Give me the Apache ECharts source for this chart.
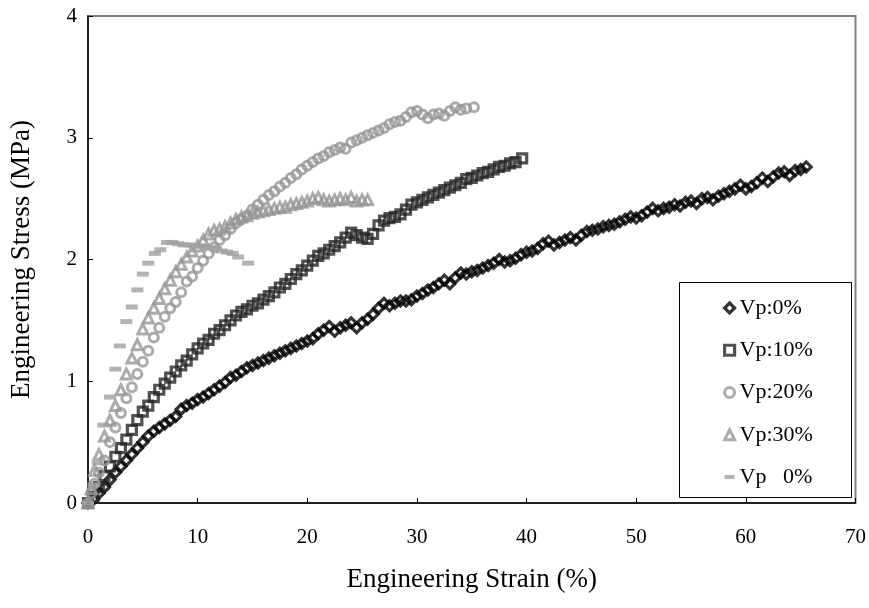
<!DOCTYPE html>
<html>
<head>
<meta charset="utf-8">
<script src="https://cdn.jsdelivr.net/npm/echarts@6/dist/echarts.min.js"></script>
<style>
html,body{margin:0;padding:0;background:#fff;}
#chart{width:869px;height:608px;}
</style>
</head>
<body>
<div id="chart"></div>
<script>
// Tick labels / axis ranges
const xTicks = [0, 10, 20, 30, 40, 50, 60, 70];
const yTicks = [0, 1, 2, 3, 4];
const seriesNames = ['Vp:0%', 'Vp:10%', 'Vp:20%', 'Vp:30%', 'Vp   0%'];

// Vp:0% (strain %, stress MPa)
const vp0 = [
[0,0],[0.5,0.03],[1.0,0.08],[1.5,0.13],[2.0,0.19],[2.5,0.25],[3.0,0.30],[3.5,0.35],[4.0,0.40],[4.5,0.45],
[5.0,0.50],[5.5,0.55],[6.0,0.59],[6.5,0.62],[7.0,0.65],[7.5,0.68],[8.0,0.71],[8.5,0.77],[9.0,0.80],[9.5,0.82],
[10.0,0.85],[10.5,0.87],[11.0,0.90],[11.5,0.93],[12.0,0.96],[12.5,0.99],[13.0,1.03],[13.5,1.05],[14.0,1.08],[14.5,1.11],
[15.0,1.13],[15.5,1.15],[16.0,1.17],[16.5,1.19],[17.0,1.21],[17.5,1.23],[18.0,1.25],[18.5,1.27],[19.0,1.29],[19.5,1.31],
[20.0,1.33],[20.5,1.35],[21.0,1.39],[21.5,1.42],[22.0,1.45],[22.5,1.41],[23.0,1.44],[23.5,1.46],[24.0,1.48],[24.5,1.44],
[25.0,1.48],[25.5,1.51],[26.0,1.55],[26.5,1.60],[27.0,1.64],[27.5,1.62],[28.0,1.64],[28.5,1.66],[29.0,1.66],[29.5,1.67],
[30.0,1.70],[30.5,1.72],[31.0,1.75],[31.5,1.77],[32.0,1.80],[32.5,1.83],[33.0,1.80],[33.5,1.85],[34.0,1.89],[34.5,1.88],
[35.0,1.90],[35.5,1.91],[36.0,1.93],[36.5,1.95],[37.0,1.97],[37.5,2.00],[38.0,1.98],[38.5,1.99],[39.0,2.01],[39.5,2.04],
[40.0,2.06],[40.5,2.07],[41.0,2.09],[41.5,2.13],[42.0,2.15],[42.5,2.12],[43.0,2.14],[43.5,2.16],[44.0,2.18],[44.5,2.16],
[45.0,2.20],[45.5,2.23],[46.0,2.24],[46.5,2.25],[47.0,2.27],[47.5,2.28],[48.0,2.29],[48.5,2.31],[49.0,2.33],[49.5,2.35],
[50.0,2.34],[50.5,2.36],[51.0,2.39],[51.5,2.42],[52.0,2.40],[52.5,2.42],[53.0,2.43],[53.5,2.45],[54.0,2.44],[54.5,2.47],
[55.0,2.48],[55.5,2.46],[56.0,2.50],[56.5,2.51],[57.0,2.49],[57.5,2.52],[58.0,2.54],[58.5,2.56],[59.0,2.58],[59.5,2.61],
[60.0,2.58],[60.5,2.60],[61.0,2.63],[61.5,2.67],[62.0,2.64],[62.5,2.68],[63.0,2.71],[63.5,2.72],[64.0,2.69],[64.5,2.73],
[65.0,2.74],[65.5,2.76]
];

// Vp:10%
const vp10 = [
[0,0],[0.5,0.05],[1.0,0.13],[1.5,0.22],[2.0,0.30],[2.5,0.38],[3.0,0.45],[3.5,0.52],[4.0,0.60],[4.5,0.68],
[5.0,0.75],[5.5,0.80],[6.0,0.87],[6.5,0.93],[7.0,0.98],[7.5,1.03],[8.0,1.08],[8.5,1.13],[9.0,1.17],[9.5,1.22],
[10.0,1.27],[10.5,1.31],[11.0,1.34],[11.5,1.39],[12.0,1.42],[12.5,1.46],[13.0,1.50],[13.5,1.54],[14.0,1.57],[14.5,1.59],
[15.0,1.62],[15.5,1.64],[16.0,1.67],[16.5,1.70],[17.0,1.73],[17.5,1.77],[18.0,1.80],[18.5,1.84],[19.0,1.88],[19.5,1.91],
[20.0,1.95],[20.5,1.99],[21.0,2.03],[21.5,2.05],[22.0,2.08],[22.5,2.11],[23.0,2.14],[23.5,2.18],[24.0,2.22],[24.5,2.20],
[25.0,2.18],[25.5,2.17],[26.0,2.21],[26.5,2.28],[27.0,2.32],[27.5,2.34],[28.0,2.35],[28.5,2.37],[29.0,2.41],[29.5,2.45],
[30.0,2.47],[30.5,2.49],[31.0,2.51],[31.5,2.53],[32.0,2.55],[32.5,2.57],[33.0,2.59],[33.5,2.61],[34.0,2.63],[34.5,2.66],
[35.0,2.67],[35.5,2.69],[36.0,2.71],[36.5,2.72],[37.0,2.74],[37.5,2.76],[38.0,2.77],[38.5,2.79],[39.0,2.80],[39.6,2.83]
];

// Vp:20%
const vp20 = [
[0,0],[0.3,0.08],[0.6,0.16],[1.0,0.25],[1.5,0.35],[2.0,0.50],[2.5,0.62],[3.0,0.74],[3.5,0.86],[4.0,0.95],
[4.5,1.06],[5.0,1.16],[5.5,1.25],[6.0,1.36],[6.5,1.44],[7.0,1.53],[7.5,1.60],[8.0,1.65],[8.5,1.73],[9.0,1.82],
[9.5,1.86],[10.0,1.93],[10.5,1.99],[11.0,2.05],[11.5,2.10],[12.0,2.16],[12.5,2.20],[13.0,2.25],[13.5,2.30],[14.0,2.33],
[14.5,2.36],[15.0,2.41],[15.5,2.45],[16.0,2.49],[16.5,2.53],[17.0,2.56],[17.5,2.60],[18.0,2.63],[18.5,2.67],[19.0,2.70],
[19.5,2.74],[20.0,2.77],[20.5,2.80],[21.0,2.83],[21.5,2.85],[22.0,2.88],[22.5,2.90],[23.0,2.92],[23.5,2.91],[24.0,2.96],
[24.5,2.98],[25.0,3.00],[25.5,3.02],[26.0,3.04],[26.5,3.06],[27.0,3.08],[27.5,3.11],[28.0,3.13],[28.5,3.14],[29.0,3.17],
[29.5,3.21],[30.0,3.22],[30.5,3.19],[31.0,3.16],[31.5,3.19],[32.0,3.20],[32.5,3.18],[33.0,3.22],[33.5,3.25],[34.0,3.23],
[34.5,3.24],[35.2,3.25]
];

// Vp:30%
const vp30 = [
[0,0],[0.3,0.12],[0.6,0.27],[1.0,0.40],[1.5,0.55],[2.0,0.68],[2.5,0.80],[3.0,0.93],[3.5,1.06],[4.0,1.19],
[4.5,1.30],[5.0,1.43],[5.5,1.52],[6.0,1.60],[6.5,1.68],[7.0,1.76],[7.5,1.83],[8.0,1.90],[8.5,1.96],[9.0,2.02],
[9.5,2.07],[10.0,2.11],[10.5,2.16],[11.0,2.21],[11.5,2.24],[12.0,2.25],[12.5,2.27],[13.0,2.30],[13.5,2.33],[14.0,2.35],
[14.5,2.36],[15.0,2.38],[15.5,2.39],[16.0,2.40],[16.5,2.41],[17.0,2.42],[17.5,2.43],[18.0,2.43],[18.5,2.45],[19.0,2.46],
[19.5,2.47],[20.0,2.48],[20.5,2.50],[21.0,2.51],[21.5,2.49],[22.0,2.48],[22.5,2.49],[23.0,2.50],[23.5,2.49],[24.0,2.51],
[24.5,2.48],[25.0,2.49],[25.5,2.49]
];

// Vp 40% (label reads "Vp   0%")
const vp40 = [
[0,0],[0.5,0.15],[0.9,0.33],[1.4,0.64],[2.0,0.87],[2.5,1.10],[2.9,1.29],[3.5,1.49],[4.0,1.61],[4.5,1.75],
[5.0,1.88],[5.5,1.97],[6.1,2.05],[6.6,2.08],[7.2,2.14],[7.7,2.14],[8.2,2.13],[8.7,2.12],[9.2,2.12],[9.7,2.11],
[10.2,2.11],[10.7,2.10],[11.2,2.10],[11.7,2.09],[12.2,2.07],[12.7,2.06],[13.2,2.05],[13.7,2.02],[14.6,1.97]
];

const FONT = '"Liberation Serif", "Times New Roman", serif';
const chart = echarts.init(document.getElementById('chart'), null, {renderer: 'canvas'});

const hollow = (c, w) => ({color: 'rgba(255,255,255,0)', borderColor: c, borderWidth: w});
const styles = [
  hollow('#000000', 3.2),
  hollow('#262626', 3.2),
  hollow('#969696', 3),
  hollow('#969696', 3),
  {color: '#a0a0a0'}
];

chart.setOption({
  animation: false,
  backgroundColor: '#fff',
  grid: {left: 88, right: 13, top: 16, bottom: 105, show: true, borderColor: '#808080', borderWidth: 2, backgroundColor: 'transparent'},
  xAxis: {
    type: 'value', min: xTicks[0], max: xTicks[xTicks.length - 1], interval: 10,
    name: 'Engineering Strain (%)', nameLocation: 'middle', nameGap: 63,
    nameTextStyle: {fontFamily: FONT, fontSize: 27, color: '#000'},
    axisLine: {show: true, onZero: false, lineStyle: {color: '#000', width: 1.5}},
    axisTick: {show: true, inside: true, length: 5, lineStyle: {color: '#000', width: 1}},
    axisLabel: {fontFamily: FONT, fontSize: 21, color: '#000', margin: 24},
    splitLine: {show: false}
  },
  yAxis: {
    type: 'value', min: yTicks[0], max: yTicks[yTicks.length - 1], interval: 1,
    name: 'Engineering Stress (MPa)', nameLocation: 'middle', nameGap: 53, nameRotate: 90,
    nameTextStyle: {fontFamily: FONT, fontSize: 27, color: '#000'},
    axisLine: {show: true, onZero: false, lineStyle: {color: '#000', width: 1.5}},
    axisTick: {show: true, inside: true, length: 5, lineStyle: {color: '#000', width: 1}},
    axisLabel: {fontFamily: FONT, fontSize: 21, color: '#000', margin: 11},
    splitLine: {show: false}
  },
  legend: {
    orient: 'vertical', left: 718, top: 292,
    itemWidth: 10, itemHeight: 10, itemGap: 20.25,
    textStyle: {fontFamily: FONT, fontSize: 22, color: '#000', lineHeight: 22},
    data: [
      {name: seriesNames[0], itemStyle: styles[0]},
      {name: seriesNames[1], itemStyle: styles[1]},
      {name: seriesNames[2], itemStyle: styles[2]},
      {name: seriesNames[3], itemStyle: styles[3]},
      {name: seriesNames[4], icon: 'path://M0,0 H12 V5 H0 Z', itemStyle: styles[4]}
    ],
    selectedMode: false
  },
  graphic: [{
    type: 'rect', z: 0, silent: true,
    shape: {x: 679.5, y: 282.5, width: 172, height: 215},
    style: {fill: '#fff', stroke: '#000', lineWidth: 1}
  }],
  series: [
    {name: seriesNames[0], type: 'scatter', data: vp0, symbol: 'diamond', symbolSize: 10, itemStyle: styles[0], silent: true},
    {name: seriesNames[1], type: 'scatter', data: vp10, symbol: 'rect', symbolSize: 9, itemStyle: styles[1], silent: true},
    {name: seriesNames[2], type: 'scatter', data: vp20, symbol: 'circle', symbolSize: 9, itemStyle: styles[2], silent: true},
    {name: seriesNames[3], type: 'scatter', data: vp30, symbol: 'triangle', symbolSize: 10, itemStyle: styles[3], silent: true},
    {name: seriesNames[4], type: 'scatter', data: vp40, symbol: 'rect', symbolSize: [12, 5], itemStyle: styles[4], silent: true}
  ]
});
</script>
</body>
</html>
